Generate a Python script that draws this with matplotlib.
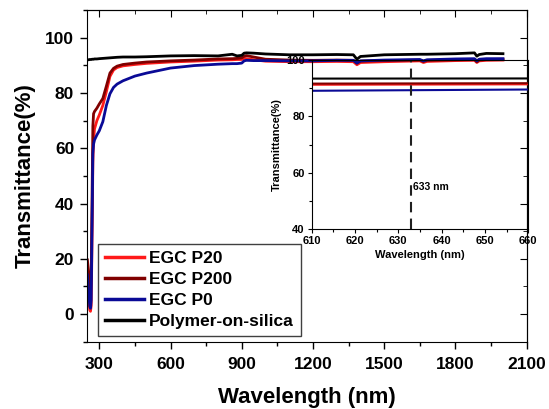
import matplotlib
matplotlib.use("Agg")
import matplotlib.pyplot as plt
import matplotlib.ticker as ticker

plt.rcParams['font.family'] = ['Liberation Sans', 'DejaVu Sans']
plt.rcParams['font.weight'] = 'bold'

# wavelength grid (nm)
wl = [250, 255, 260, 263, 266, 270, 273, 276, 280, 290, 300, 315, 330, 345, 360,
      375, 400, 450, 500, 600, 700, 800, 860, 880, 900, 910, 920, 950, 1000, 1100,
      1200, 1300, 1370, 1385, 1400, 1500, 1650, 1665, 1680, 1800, 1880, 1890, 1900,
      1930, 2000]

t_p20 = [14, 6, 1.5, 1.0, 3, 30, 55, 63, 67, 70, 72, 75.5, 80.5, 86, 88.3,
         89.2, 89.8, 90.3, 90.7, 91.2, 91.5, 91.9, 92.0, 92.1, 92.1, 92.5, 92.4, 92.0, 91.5, 91.3,
         91.3, 91.4, 91.3, 90.2, 91.0, 91.3, 91.6, 91.0, 91.4, 91.7, 91.8, 91.0, 91.6,
         91.8, 91.9]

t_p200 = [19.6, 15, 9.5, 8.8, 14, 45, 68, 72.5, 73.3, 74.5, 76, 78, 82.5, 87.2, 88.9,
          89.7, 90.3, 90.8, 91.2, 91.6, 91.9, 92.3, 92.4, 92.5, 92.7, 93.3, 93.5, 93.0, 92.2, 91.9,
          91.8, 91.9, 91.8, 90.8, 91.5, 91.7, 91.9, 91.4, 91.8, 92.0, 92.1, 91.3, 91.9,
          92.1, 92.2]

t_p0 = [14.2, 8, 2.8, 2.1, 5, 35, 58, 61.5, 63, 64.8, 66.3, 69.6, 75.5, 79.7, 82,
        83.2, 84.4, 86.1, 87.2, 89.0, 89.9, 90.4, 90.6, 90.6, 90.8, 91.6, 91.8, 91.7, 91.7, 91.6,
        91.6, 91.8, 91.8, 90.8, 91.6, 91.9, 92.1, 91.6, 92.0, 92.3, 92.4, 91.6, 92.2,
        92.4, 92.4]

t_poly = [92.0, 92.0, 92.1, 92.1, 92.1, 92.2, 92.2, 92.2, 92.3, 92.3, 92.4, 92.5, 92.6, 92.7, 92.8,
          92.9, 93.0, 93.0, 93.1, 93.4, 93.5, 93.4, 94.0, 93.4, 93.6, 94.4, 94.5, 94.4, 94.1, 93.8,
          93.8, 93.9, 93.8, 92.2, 93.2, 93.8, 94.0, 94.0, 94.0, 94.2, 94.5, 93.3, 93.9,
          94.3, 94.2]

series = [
    ('EGC P20', t_p20, '#ff1a1a'),
    ('EGC P200', t_p200, '#800000'),
    ('EGC P0', t_p0, '#0a0a96'),
    ('Polymer-on-silica', t_poly, '#000000'),
]

fig = plt.figure(figsize=(5.49, 4.09), dpi=100)
ax = fig.add_axes([0.1579, 0.1645, 0.8015, 0.811])

for name, t, c in series:
    ax.plot(wl, t, color=c, lw=2, label=name)

ax.set_xlim(247, 2100)
ax.set_ylim(-10, 110)
ax.xaxis.set_major_locator(ticker.MultipleLocator(300))
ax.xaxis.set_minor_locator(ticker.MultipleLocator(150))
ax.yaxis.set_major_locator(ticker.MultipleLocator(20))
ax.yaxis.set_minor_locator(ticker.MultipleLocator(10))
ax.tick_params(which='both', direction='out', top=False, right=False, width=1)
ax.tick_params(which='major', length=5, labelsize=12.5, pad=4)
ax.tick_params(axis='x', which='major', pad=6)
ax.tick_params(which='minor', length=3)
# mirrored inward ticks on top/right
ax2 = ax.secondary_xaxis('top')
ax2.xaxis.set_major_locator(ticker.MultipleLocator(300))
ax2.xaxis.set_minor_locator(ticker.MultipleLocator(150))
ax2.tick_params(which='both', direction='in', labeltop=False)
ax2.tick_params(which='major', length=5)
ax2.tick_params(which='minor', length=3)
ay2 = ax.secondary_yaxis('right')
ay2.yaxis.set_major_locator(ticker.MultipleLocator(20))
ay2.yaxis.set_minor_locator(ticker.MultipleLocator(10))
ay2.tick_params(which='both', direction='in', labelright=False)
ay2.tick_params(which='major', length=5)
ay2.tick_params(which='minor', length=3)

ax.set_xlabel('Wavelength (nm)', fontsize=16, fontweight='bold', labelpad=11)
ax.set_ylabel('Transmittance(%)', fontsize=16, fontweight='bold', labelpad=7)

leg = ax.legend(loc='upper left', bbox_to_anchor=(0.1794, 0.4034),
                bbox_transform=fig.transFigure, borderaxespad=0,
                fontsize=12.5, fancybox=False, framealpha=1, edgecolor='#404040',
                handlelength=2.2, handletextpad=0.3, labelspacing=0.34,
                borderpad=0.4)
leg.get_frame().set_linewidth(1)
for line in leg.get_lines():
    line.set_linewidth(2.5)

# inset zoom around 633 nm
ins = fig.add_axes([0.5678, 0.4394, 0.3945, 0.4139])
ins.patch.set_alpha(0)
for name, t, c in series:
    ins.plot(wl, t, color=c, lw=1.5)
ins.axvline(633, color='#202020', ls=(0, (5, 3)), lw=1.5)
ins.text(633.3, 55, '633 nm', fontsize=7.5, va='center', ha='left')
ins.set_xlim(610, 660)
ins.set_ylim(40, 100)
ins.xaxis.set_major_locator(ticker.MultipleLocator(10))
ins.xaxis.set_minor_locator(ticker.MultipleLocator(5))
ins.yaxis.set_major_locator(ticker.MultipleLocator(20))
ins.yaxis.set_minor_locator(ticker.MultipleLocator(10))
ins.tick_params(which='both', direction='out', width=0.8, labelsize=8, pad=2)
ins.tick_params(which='major', length=3)
ins.tick_params(which='minor', length=2)
ins.set_xlabel('Wavelength (nm)', fontsize=8, fontweight='bold', labelpad=3)
ins.set_ylabel('Transmittance(%)', fontsize=8, fontweight='bold', labelpad=3)

fig.savefig('out.png', dpi=100)
